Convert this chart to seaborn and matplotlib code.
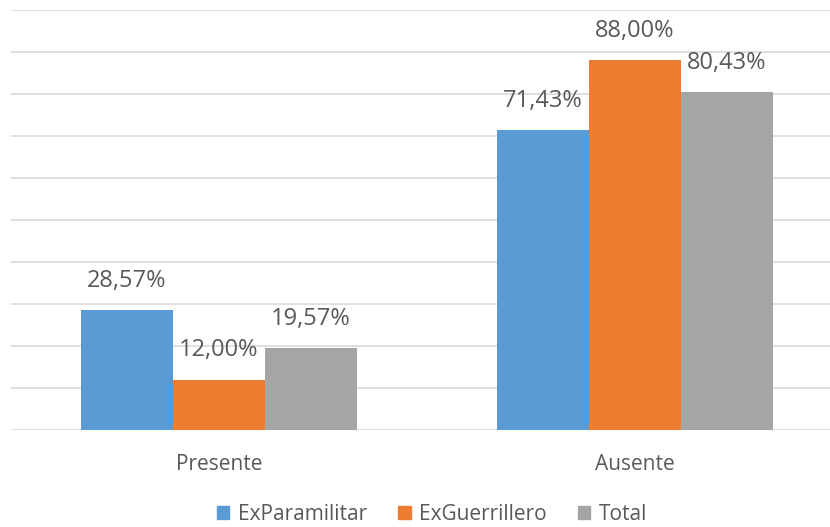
import pandas as pd
import matplotlib
matplotlib.use("Agg")
import matplotlib.pyplot as plt
import seaborn as sns

# data
categorias = ["Presente", "Ausente"]
grupos = ["ExParamilitar", "ExGuerrillero", "Total"]
ex_paramilitar = [28.57, 71.43]
ex_guerrillero = [12.00, 88.00]
total = [19.57, 80.43]
colores = ["#5B9BD5", "#ED7D31", "#A5A5A5"]

df = pd.DataFrame({
    "Categoria": categorias * 3,
    "Grupo": [g for g in grupos for _ in categorias],
    "Valor": ex_paramilitar + ex_guerrillero + total,
})

sns.set_style("white")
plt.rcParams["font.family"] = ["Open Sans", "DejaVu Sans"]
texto = "#595959"

fig = plt.figure(figsize=(8.3, 5.27), dpi=100)
ax = fig.add_axes([11 / 830, 1 - 430 / 527, 819 / 830, 420 / 527])

sns.barplot(data=df, x="Categoria", y="Valor", hue="Grupo", order=categorias,
            hue_order=grupos, palette=colores, width=0.663, saturation=1,
            linewidth=0, ax=ax, legend=False)

ax.set_xlim(-0.5, -0.5 + 819 / 416)
ax.set_ylim(0, 100)
ax.set_yticks(range(0, 101, 10))
ax.yaxis.grid(True, color="#D9D9D9", linewidth=1.2)
ax.set_axisbelow(True)
for s in ax.spines.values():
    s.set_visible(False)
ax.tick_params(axis="y", left=False, labelleft=False)
ax.tick_params(axis="x", bottom=False, pad=14, labelsize=15, labelcolor=texto)
ax.set_xlabel("")
ax.set_ylabel("")

# value labels above each bar
for cont in ax.containers:
    for barra in cont:
        h = barra.get_height()
        ax.annotate(f"{h:.2f}%".replace(".", ","),
                    (barra.get_x() + barra.get_width() / 2, h),
                    xytext=(0, 21), textcoords="offset points",
                    ha="center", va="center", fontsize=17, color=texto)

handles = [plt.Rectangle((0, 0), 1, 1, color=c) for c in colores]
fig.legend(handles, grupos, loc="center", bbox_to_anchor=(432 / 830, 1 - 514 / 527),
           ncol=3, frameon=False, fontsize=15, labelcolor=texto,
           handlelength=0.6, handleheight=0.6, handletextpad=0.4, columnspacing=1.5)

fig.savefig("out.png", dpi=100)
